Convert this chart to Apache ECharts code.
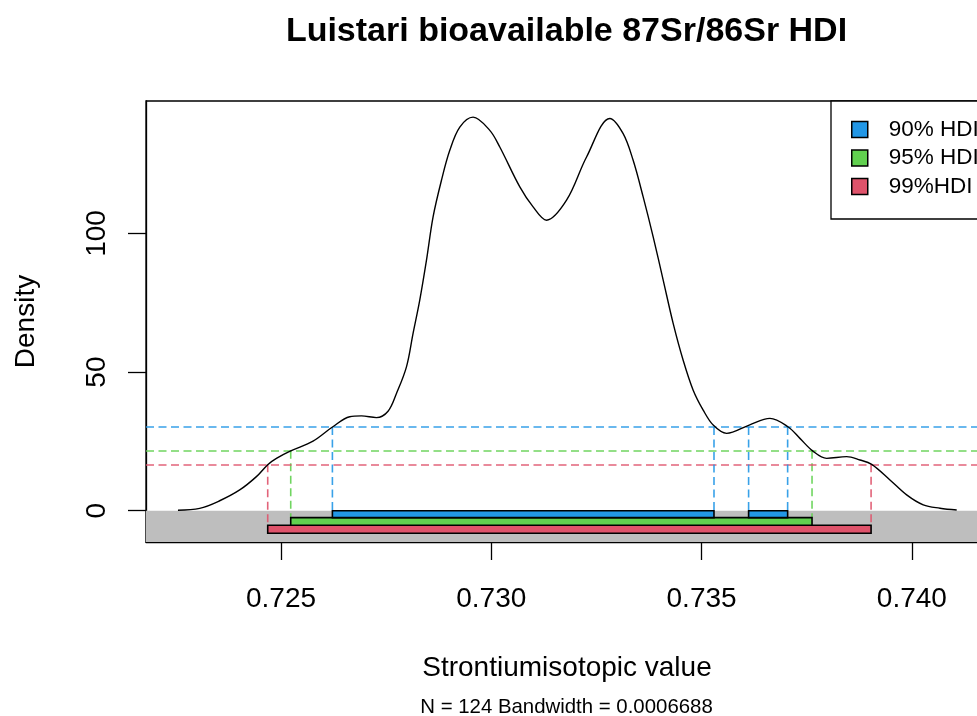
<!DOCTYPE html>
<html>
<head>
<meta charset="utf-8">
<script src="https://cdn.jsdelivr.net/npm/echarts@6/dist/echarts.min.js"></script>
<style>
html,body{margin:0;padding:0;background:#fff;}
#main{width:977px;height:716px;}
</style>
</head>
<body>
<div id="main"></div>
<script>
// ---- data ----
const densityX = [0.72255, 0.723066, 0.723542, 0.724018, 0.724415, 0.724691, 0.724891, 0.725231,
  0.725761, 0.726223, 0.726634, 0.726912, 0.727269, 0.727545, 0.727745, 0.727983,
  0.72814, 0.728299, 0.728459, 0.728616, 0.728815, 0.729013, 0.729251, 0.729567, 0.729964,
  0.730202, 0.730678, 0.730994, 0.731313, 0.731789, 0.732265, 0.732819, 0.733135, 0.733373,
  0.733611, 0.733849, 0.734087, 0.734324, 0.734562, 0.7348, 0.735038, 0.735276, 0.735595,
  0.736132, 0.736625, 0.73706, 0.737338, 0.73764, 0.737973, 0.738449, 0.738765, 0.739044,
  0.739479, 0.739876, 0.740271, 0.740668, 0.741066];
const densityY = [0.2, 0.85, 3.6, 7.5, 12.3, 16.7, 18.9, 21.6,
  25.1, 30.2, 33.9, 34.2, 33.6, 35.9, 42.3, 51.9,
  64, 76, 90.4, 106, 119.2, 130, 138.4, 142, 137.2,
  131.2, 116.8, 109.6, 104.8, 112, 127.6, 141.5, 136, 126.4,
  113.2, 98.8, 83.2, 67.6, 54.3, 43.5, 36.3, 30.9, 27.9,
  30.9, 33.3, 30.2, 26.1, 21.6, 18.9, 19.5, 18.3, 16.7,
  11.1, 5.7, 2.1, 0.9, 0.25];

const hdiNames = ['90% HDI', '95% HDI', '99%HDI'];
const hdiIntervals = [
  [[0.726222, 0.735295], [0.736118, 0.737046]],
  [[0.725231, 0.737626]],
  [[0.724684, 0.739030]]
];
const hdiHeights = [30.17, 21.63, 16.73];
const hdiBarTop = [0, -2.5, -5.25];
const hdiBarBottom = [-2.5, -5.25, -8.1];

const xTicks = [0.725, 0.730, 0.735, 0.740];
const yTicks = [0, 50, 100];
const X_MIN = 0.72179, X_MAX = 0.74181;
const Y_MIN = -11.28, Y_MAX = 147.8;

const titleText = 'Luistari bioavailable 87Sr/86Sr HDI';
const xTitle = 'Strontiumisotopic value';
const yTitle = 'Density';
const subText = 'N = 124 Bandwidth = 0.0006688';

// ---- styles ----
const FONT = '"Liberation Sans", Arial, sans-serif';
const hdiColors = ['#2297E6', '#61D04F', '#DF536B'];
const DASH = [8, 4.5];

const chart = echarts.init(document.getElementById('main'), null, {renderer: 'canvas'});

const hdiSeries = hdiNames.map((name, i) => ({
  type: 'custom',
  name: name,
  z: 3 + (2 - i),
  itemStyle: {color: hdiColors[i], borderColor: '#000', borderWidth: 1.5},
  data: hdiIntervals[i],
  renderItem: function (params, api) {
    const x0 = api.value(0), x1 = api.value(1);
    const tl = api.coord([x0, hdiBarTop[i]]);
    const br = api.coord([x1, hdiBarBottom[i]]);
    const hy = api.coord([x0, hdiHeights[i]])[1];
    const dashStyle = {stroke: hdiColors[i], lineWidth: 1.6, lineDash: DASH, opacity: 0.9};
    return {
      type: 'group',
      children: [
        {type: 'line', shape: {x1: tl[0], y1: hy, x2: tl[0], y2: tl[1]}, style: dashStyle},
        {type: 'line', shape: {x1: br[0], y1: hy, x2: br[0], y2: tl[1]}, style: dashStyle},
        {type: 'rect', shape: {x: tl[0], y: tl[1], width: br[0] - tl[0], height: br[1] - tl[1]},
          style: {fill: hdiColors[i], stroke: '#000', lineWidth: 1.6}}
      ]
    };
  },
  markLine: {
    silent: true,
    symbol: ['none', 'none'],
    label: {show: false},
    lineStyle: {color: hdiColors[i], type: DASH, width: 1.6, opacity: 0.9},
    data: [{yAxis: hdiHeights[i]}]
  }
}));

const option = {
  backgroundColor: '#fff',
  animation: false,
  textStyle: {fontFamily: FONT},
  grid: {
    left: 146, top: 101, right: -11, bottom: 174,
    outerBoundsMode: 'none',
    containLabel: false,
    show: true, borderColor: '#000', borderWidth: 1.3, backgroundColor: 'transparent'
  },
  legend: {
    orient: 'vertical',
    left: 831, top: 101,
    padding: [17, 40, 21, 20],
    backgroundColor: '#fff',
    borderColor: '#000', borderWidth: 1.3, borderRadius: 0,
    itemWidth: 16, itemHeight: 16, itemGap: 5.5,
    icon: 'rect',
    data: hdiNames,
    itemStyle: {borderColor: '#000', borderWidth: 1.5},
    textStyle: {fontSize: 22.5, lineHeight: 22, color: '#000', fontFamily: FONT, padding: [0, 0, 0, 16]},
    selectedMode: false,
    z: 10
  },
  xAxis: {
    type: 'value', min: X_MIN, max: X_MAX,
    name: xTitle, nameLocation: 'middle', nameGap: 112,
    nameTextStyle: {fontSize: 28, color: '#000', fontFamily: FONT},
    axisLine: {show: true, onZero: false, lineStyle: {color: '#000', width: 1.3}},
    splitLine: {show: false},
    axisTick: {show: true, customValues: xTicks, length: 18, lineStyle: {color: '#000', width: 1.3}},
    axisLabel: {customValues: xTicks, formatter: v => v.toFixed(3), fontSize: 28, color: '#000', margin: 43, fontFamily: FONT}
  },
  yAxis: {
    type: 'value', min: Y_MIN, max: Y_MAX,
    name: yTitle, nameLocation: 'middle', nameGap: 106,
    nameTextStyle: {fontSize: 28, color: '#000', fontFamily: FONT},
    axisLine: {show: true, onZero: false, lineStyle: {color: '#000', width: 1.3}},
    splitLine: {show: false},
    axisTick: {show: true, customValues: yTicks, length: 18, lineStyle: {color: '#000', width: 1.3}},
    axisLabel: {customValues: yTicks, rotate: 90, fontSize: 28, color: '#000', margin: 35, fontFamily: FONT}
  },
  graphic: [
    {type: 'text', x: 566.5, y: 32, style: {text: titleText, font: 'bold 34px ' + FONT, fill: '#000', textAlign: 'center', textVerticalAlign: 'middle'}},
    {type: 'text', x: 566.5, y: 707, style: {text: subText, font: '20.4px ' + FONT, fill: '#000', textAlign: 'center', textVerticalAlign: 'middle'}}
  ],
  series: [
    {
      type: 'custom',
      name: 'base',
      z: 1,
      silent: true,
      data: [[X_MIN, X_MAX]],
      renderItem: function (params, api) {
        const a = api.coord([api.value(0), 0]);
        const b = api.coord([api.value(1), Y_MIN]);
        return {type: 'rect', shape: {x: a[0], y: a[1], width: b[0] - a[0], height: b[1] - a[1]}, style: {fill: '#BEBEBE'}};
      }
    },
    ...hdiSeries,
    {
      type: 'line',
      name: 'density',
      z: 8,
      showSymbol: false,
      smooth: 0.35,
      lineStyle: {color: '#000', width: 1.4},
      itemStyle: {color: '#000'},
      data: densityX.map((x, k) => [x, densityY[k]])
    }
  ]
};
chart.setOption(option);
</script>
</body>
</html>
